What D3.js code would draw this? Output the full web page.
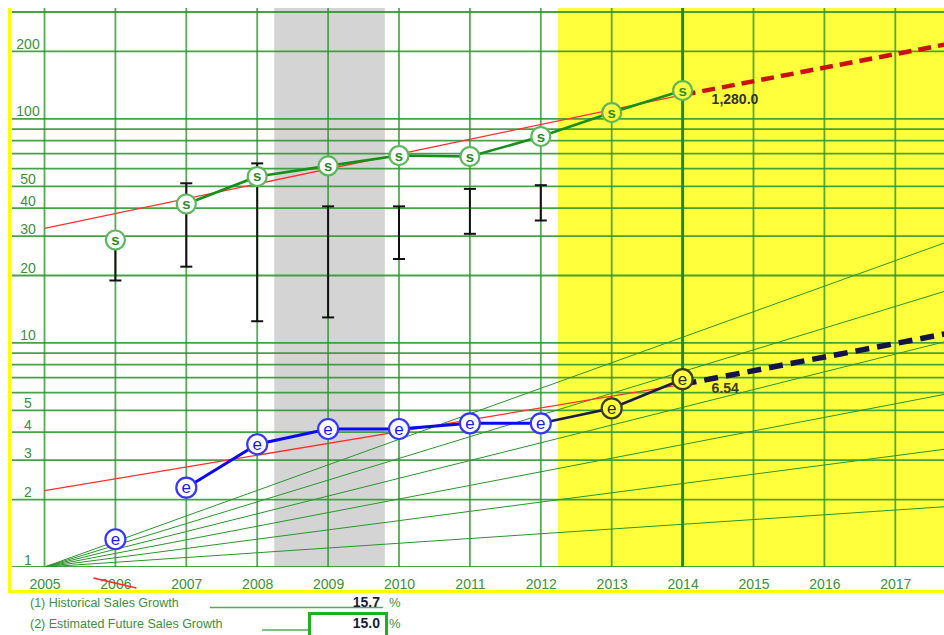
<!DOCTYPE html>
<html>
<head>
<meta charset="utf-8">
<script src="https://cdn.jsdelivr.net/npm/d3@7/dist/d3.min.js"></script>
<style>
  html, body { margin: 0; padding: 0; background: #fff; }
  svg { display: block; font-family: Arial, "Liberation Sans", sans-serif; }
</style>
</head>
<body>
<svg id="chart" width="944" height="635"></svg>
<script>
// ---- data -------------------------------------------------------------
const years      = [2006, 2007, 2008, 2009, 2010, 2011, 2012, 2013, 2014];
const sales      = [28.8, 41.7, 55.3, 61.7, 68.6, 67.9, 83.4, 106.7, 133.8];
const eps        = [1.33, 2.26, 3.53, 4.13, 4.13, 4.38, 4.38, 5.11, 6.89];

const priceYears = [2006, 2007, 2008, 2009, 2010, 2011, 2012];
const priceHigh  = [28.0, 51.6, 63.3, 40.7, 40.7, 48.7, 50.6];
const priceLow   = [19.0, 21.9, 12.5, 13.0, 23.7, 30.7, 35.2];

const tickYears   = [2005, 2006, 2007, 2008, 2009, 2010, 2011, 2012, 2013, 2014, 2015, 2016, 2017];
const gridValues  = [1, 2, 3, 4, 5, 6, 7, 8, 9, 10, 20, 30, 40, 50, 60, 70, 80, 90, 100, 200, 300];
const labelValues = [1, 2, 3, 4, 5, 10, 20, 30, 40, 50, 100, 200];

// growth-rate guide lines fanning out from 1.0 in the base year
const fanRates = [0.05, 0.10, 0.15, 0.20, 0.25, 0.30];

// trend lines (start / end values); end values are the labelled ones
const salesTrendYears  = [2005, 2014];
const salesTrendValues = [32.5, 128.0];
const epsTrendYears    = [2005, 2014];
const epsTrendValues   = [2.19, 6.54];

const historicalGrowth = 15.7;   // % per year
const futureGrowth     = 15.0;   // % per year, used for both projections

const recessionSpan   = [2008.24, 2009.80];
const projectionStart = 2012.24;
const firstLinked     = 2007;    // first year joined into the history lines
const estimateFrom    = 2012;    // EPS from here on is drawn as an estimate
const baseYear        = 2005;

// ---- layout ------------------------------------------------------------
const W = 944, H = 635;
const plotLeft = 12, plotTop = 8, plotBottom = 567;

const x = d3.scaleLinear().domain([2005, 2017]).range([44.5, 895.3]);
const y = d3.scaleLog().domain([1, 300]).range([567, 12]);
const xEnd = x.invert(W + 2);

const svg = d3.select("#chart");

svg.append("defs").append("clipPath").attr("id", "plotClip")
  .append("rect").attr("x", plotLeft).attr("y", plotTop)
  .attr("width", W - plotLeft).attr("height", plotBottom - plotTop);

const plot = svg.append("g").attr("clip-path", "url(#plotClip)");

// shaded recession band and projection zone
plot.append("rect")
  .attr("x", x(recessionSpan[0])).attr("y", plotTop)
  .attr("width", x(recessionSpan[1]) - x(recessionSpan[0]))
  .attr("height", plotBottom - plotTop)
  .attr("fill", "#d4d4d4");
plot.append("rect")
  .attr("x", x(projectionStart)).attr("y", plotTop)
  .attr("width", W - x(projectionStart))
  .attr("height", plotBottom - plotTop)
  .attr("fill", "#ffff3c");

// growth-rate fan
const fanLine = d3.line().x(d => x(d[0])).y(d => y(d[1]));
plot.selectAll(".fan").data(fanRates).join("path")
  .attr("class", "fan")
  .attr("d", r => fanLine([[baseYear, 1], [xEnd, Math.pow(1 + r, xEnd - baseYear)]]))
  .attr("fill", "none").attr("stroke", "#2a962a").attr("stroke-width", 1);

// horizontal grid
plot.selectAll(".hgrid").data(gridValues).join("line")
  .attr("class", "hgrid")
  .attr("x1", plotLeft).attr("x2", W)
  .attr("y1", d => y(d)).attr("y2", d => y(d))
  .attr("stroke", "#2d952d").attr("stroke-width", 1.8).attr("stroke-opacity", 0.88);

// vertical grid
plot.selectAll(".vgrid").data(tickYears).join("line")
  .attr("class", "vgrid")
  .attr("x1", d => x(d)).attr("x2", d => x(d))
  .attr("y1", plotTop).attr("y2", plotBottom)
  .attr("stroke", d => d === 2014 ? "#1f8a1f" : "#2d952d")
  .attr("stroke-width", d => d === 2014 ? 3 : 1.8)
  .attr("stroke-opacity", d => d === 2014 ? 1 : 0.8);

// trend lines
const vLine = d3.line().x(d => x(d.year)).y(d => y(d.value));
const salesTrend = salesTrendYears.map((yr, i) => ({ year: yr, value: salesTrendValues[i] }));
const epsTrend   = epsTrendYears.map((yr, i) => ({ year: yr, value: epsTrendValues[i] }));
[salesTrend, epsTrend].forEach(t => {
  plot.append("path").attr("d", vLine(t))
    .attr("fill", "none").attr("stroke", "#ff3030").attr("stroke-width", 1.3);
});

// price range bars
const capW = 6;
const bars = plot.selectAll(".bar").data(priceYears.map((yr, i) => ({ year: yr, hi: priceHigh[i], lo: priceLow[i] })))
  .join("g").attr("class", "bar")
  .attr("stroke", "#111").attr("stroke-width", 2);
bars.append("line").attr("x1", d => x(d.year)).attr("x2", d => x(d.year))
  .attr("y1", d => y(d.hi)).attr("y2", d => y(d.lo));
bars.append("line").attr("x1", d => x(d.year) - capW).attr("x2", d => x(d.year) + capW)
  .attr("y1", d => y(d.hi)).attr("y2", d => y(d.hi));
bars.append("line").attr("x1", d => x(d.year) - capW).attr("x2", d => x(d.year) + capW)
  .attr("y1", d => y(d.lo)).attr("y2", d => y(d.lo));

// history lines
const salesPts = years.map((yr, i) => ({ year: yr, value: sales[i] }));
const epsPts   = years.map((yr, i) => ({ year: yr, value: eps[i] }));

plot.append("path")
  .attr("d", vLine(salesPts.filter(d => d.year >= firstLinked)))
  .attr("fill", "none").attr("stroke", "#16901a").attr("stroke-width", 2.6);
plot.append("path")
  .attr("d", vLine(epsPts.filter(d => d.year >= firstLinked && d.year <= estimateFrom)))
  .attr("fill", "none").attr("stroke", "#0a0aee").attr("stroke-width", 3);
plot.append("path")
  .attr("d", vLine(epsPts.filter(d => d.year >= estimateFrom)))
  .attr("fill", "none").attr("stroke", "#1c1c48").attr("stroke-width", 2.6);

// projections at the estimated future growth rate
const lastTrendYear = salesTrendYears[1];
function projection(start) {
  return [
    { year: lastTrendYear, value: start },
    { year: xEnd, value: start * Math.pow(1 + futureGrowth / 100, xEnd - lastTrendYear) }
  ];
}
plot.append("path").attr("d", vLine(projection(salesTrendValues[1])))
  .attr("fill", "none").attr("stroke", "#cc1010").attr("stroke-width", 4.5)
  .attr("stroke-dasharray", "13,7");
plot.append("path").attr("d", vLine(projection(epsTrendValues[1])))
  .attr("fill", "none").attr("stroke", "#141448").attr("stroke-width", 5.5)
  .attr("stroke-dasharray", "14,8");

// point markers
const bgAt = yr => yr >= projectionStart ? "#ffff3c" : "#ffffff";

const sMarks = plot.selectAll(".smark").data(salesPts).join("g")
  .attr("class", "smark")
  .attr("transform", d => `translate(${x(d.year)},${y(d.value)})`);
sMarks.append("circle").attr("r", 9.5)
  .attr("fill", d => bgAt(d.year)).attr("stroke", "#5cb85c").attr("stroke-width", 2.2);
sMarks.append("text").text("s")
  .attr("text-anchor", "middle").attr("dy", "0.33em")
  .attr("font-size", 15).attr("font-weight", "bold").attr("fill", "#2e8b2e");

const eMarks = plot.selectAll(".emark").data(epsPts).join("g")
  .attr("class", "emark")
  .attr("transform", d => `translate(${x(d.year)},${y(d.value)})`);
eMarks.append("circle").attr("r", 10)
  .attr("fill", d => bgAt(d.year))
  .attr("stroke", d => d.year > estimateFrom ? "#3a3a22" : "#3535ff")
  .attr("stroke-width", 2.2);
eMarks.append("text").text("e")
  .attr("text-anchor", "middle").attr("dy", "0.33em")
  .attr("font-size", 17)
  .attr("fill", d => d.year > estimateFrom ? "#2a2a22" : "#1a1aee");

// trend value labels
plot.append("text")
  .attr("x", x(lastTrendYear) + 29).attr("y", y(salesTrendValues[1]) + 9)
  .attr("font-size", 14).attr("font-weight", "bold").attr("fill", "#333")
  .text(d3.format(",.1f")(salesTrendValues[1] * 10));   // sales label in millions
plot.append("text")
  .attr("x", x(lastTrendYear) + 29).attr("y", y(epsTrendValues[1]) + 9)
  .attr("font-size", 14).attr("font-weight", "bold").attr("fill", "#3a3a14")
  .text(d3.format(".2f")(epsTrendValues[1]));

// ---- axes --------------------------------------------------------------
const tickColor = "#3c8f3c";

const yAxis = svg.append("g").attr("transform", "translate(28,0)")
  .call(d3.axisLeft(y).tickValues(labelValues).tickFormat(d3.format("d")).tickSize(0));
yAxis.select(".domain").remove();
yAxis.selectAll("text")
  .attr("x", 0).attr("dy", 0).attr("y", -3)
  .attr("text-anchor", "middle")
  .attr("font-family", "Arial, 'Liberation Sans', sans-serif")
  .attr("font-size", 14).attr("fill", tickColor);

const xAxis = svg.append("g").attr("transform", "translate(0,589)")
  .call(d3.axisBottom(x).tickValues(tickYears).tickFormat(d3.format("d")).tickSize(0));
xAxis.select(".domain").remove();
xAxis.selectAll("text")
  .attr("y", 0).attr("dy", 0)
  .attr("font-family", "Arial, 'Liberation Sans', sans-serif")
  .attr("font-size", 14).attr("fill", tickColor);

// the first year's label is struck out
svg.append("line")
  .attr("x1", x(2006) - 22).attr("y1", 578)
  .attr("x2", x(2006) + 21).attr("y2", 588)
  .attr("stroke", "#ff2a2a").attr("stroke-width", 1.3);

// yellow frame
svg.append("line").attr("x1", 9.5).attr("x2", 9.5).attr("y1", plotTop).attr("y2", 593)
  .attr("stroke", "#ffff00").attr("stroke-width", 3);
svg.append("line").attr("x1", 8).attr("x2", W).attr("y1", 591.5).attr("y2", 591.5)
  .attr("stroke", "#ffff00").attr("stroke-width", 3);

// ---- growth summary ----------------------------------------------------
const summary = svg.append("g").attr("font-family", "Arial, 'Liberation Sans', sans-serif");
summary.append("text").attr("x", 30).attr("y", 607)
  .attr("font-size", 12.5).attr("fill", tickColor).text("(1) Historical Sales Growth");
summary.append("line").attr("x1", 210).attr("x2", 383).attr("y1", 607.5).attr("y2", 607.5)
  .attr("stroke", "#55aa55").attr("stroke-width", 1.3);
summary.append("text").attr("x", 380).attr("y", 607).attr("text-anchor", "end")
  .attr("font-size", 14).attr("font-weight", "bold").attr("fill", "#1b1b35")
  .text(d3.format(".1f")(historicalGrowth));
summary.append("text").attr("x", 389).attr("y", 607)
  .attr("font-size", 13).attr("fill", tickColor).text("%");

summary.append("text").attr("x", 30).attr("y", 628)
  .attr("font-size", 12.5).attr("fill", tickColor).text("(2) Estimated Future Sales Growth");
summary.append("line").attr("x1", 262).attr("x2", 310).attr("y1", 630).attr("y2", 630)
  .attr("stroke", "#55aa55").attr("stroke-width", 1.3);
summary.append("rect").attr("x", 309.5).attr("y", 613.5).attr("width", 77).attr("height", 30)
  .attr("fill", "none").attr("stroke", "#1fb01f").attr("stroke-width", 3);
summary.append("text").attr("x", 380).attr("y", 628).attr("text-anchor", "end")
  .attr("font-size", 14).attr("font-weight", "bold").attr("fill", "#1b1b35")
  .text(d3.format(".1f")(futureGrowth));
summary.append("text").attr("x", 389).attr("y", 628)
  .attr("font-size", 13).attr("fill", tickColor).text("%");
</script>
</body>
</html>
